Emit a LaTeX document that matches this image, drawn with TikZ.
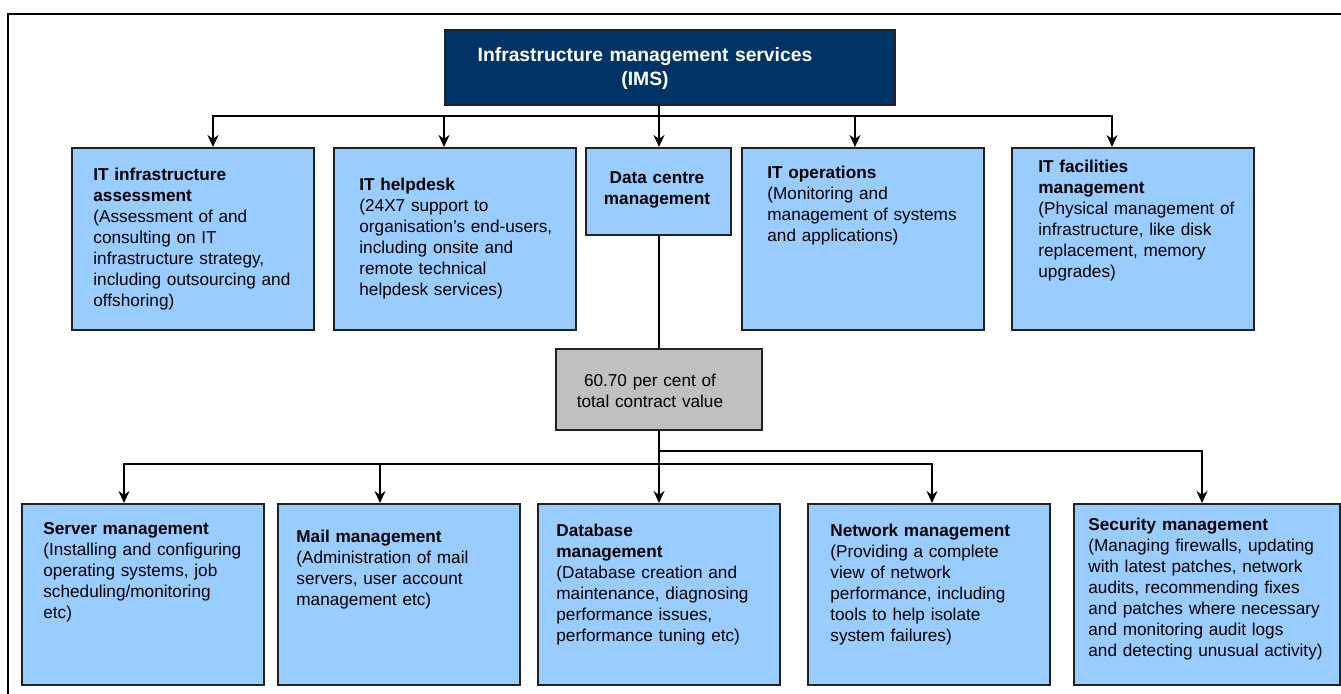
\documentclass[tikz,border=0pt]{standalone}
\usepackage{fontspec}
\setmainfont{Liberation Sans}
\usetikzlibrary{arrows.meta,positioning}
\definecolor{imsblue}{HTML}{003366}
\definecolor{svcblue}{HTML}{99CCFF}
\definecolor{sharegray}{HTML}{C0C0C0}
\definecolor{rim}{HTML}{222222}

\begin{document}
\begin{tikzpicture}[x=0.5pt,y=-0.5pt,>={Stealth[length=6pt,width=5.5pt]},
    svc/.style={draw=rim,fill=svcblue,line width=0.9pt,inner sep=0pt,anchor=north west},
    tall/.style={svc,minimum width=121pt,minimum height=91pt},
    low/.style={svc,minimum width=121pt,minimum height=90.5pt},
    txt/.style={inner sep=0pt,anchor=base west,text width=130pt,align=left,
      font=\fontsize{8.6}{10.5}\selectfont},
    link/.style={line width=0.9pt}]
  \useasboundingbox (0,0) rectangle (1341,694);
  \draw[line width=0.8pt] (1341,14) -- (8,14) -- (8,694);

  % IMS on top
  \node[svc,fill=imsblue,minimum width=225pt,minimum height=37.5pt] (ims) at (444,29) {};
  \node[txt,anchor=base,text width=200pt,align=center,text=white,
    font=\fontsize{9.65}{12}\selectfont\bfseries] (ims-t) at (645,62)
    {Infrastructure management services\\(IMS)};

  % first row
  \node[tall] (assess) at (71,147) {};
  \node[tall] (helpdesk) at (333,147) {};
  \node[svc,minimum width=72.5pt,minimum height=43.5pt] (dc) at (585,147) {};
  \node[tall] (ops) at (741,147) {};
  \node[tall] (facil) at (1011,147) {};

  \node[txt] (assess-t) at (93,181) {\textbf{IT infrastructure}\\\textbf{assessment}\\
    (Assessment of and\\consulting on IT\\infrastructure strategy,\\
    including outsourcing and\\offshoring)};
  \node[txt] (helpdesk-t) at (359,191) {\textbf{IT helpdesk}\\(24X7 support to\\
    organisation’s end-users,\\including onsite and\\remote technical\\helpdesk services)};
  \node[txt,anchor=base,text width=70pt,align=center,font=\fontsize{8.6}{10.5}\selectfont\bfseries]
    (dc-t) at (657,184) {Data centre\\management};
  \node[txt] (ops-t) at (767,179) {\textbf{IT operations}\\(Monitoring and\\
    management of systems\\and applications)};
  \node[txt] (facil-t) at (1038,173) {\textbf{IT facilities}\\\textbf{management}\\
    (Physical management of\\infrastructure, like disk\\replacement, memory\\upgrades)};

  \coordinate (tbus) at (659,116);
  \draw[link] (ims.south -| tbus) -- (tbus);
  \draw[link,->] (tbus) -- (dc.north -| tbus);
  \foreach \n/\x in {assess/213,helpdesk/444,ops/855,facil/1112}
    \draw[link,->] (tbus) -| (\n.north -| \x,0);

  % share of contract value
  \node[svc,fill=sharegray,minimum width=103pt,minimum height=40.5pt] (share) at (555,348) {};
  \node[txt,anchor=base,text width=100pt,align=center] (share-t) at (650,387)
    {60.70 per cent of\\total contract value};
  \draw[link] (dc.south -| tbus) -- (share.north -| tbus);

  % second row
  \node[low] (srv) at (21,503) {};
  \node[low] (mail) at (277,503) {};
  \node[low] (db) at (537,503) {};
  \node[low] (net) at (807,503) {};
  \node[low,minimum width=133pt] (sec) at (1073,503) {};

  \node[txt] (srv-t) at (43,535) {\textbf{Server management}\\(Installing and configuring\\
    operating systems, job\\scheduling/monitoring\\etc)};
  \node[txt] (mail-t) at (296,543) {\textbf{Mail management}\\(Administration of mail\\
    servers, user account\\management etc)};
  \node[txt] (db-t) at (556,537) {\textbf{Database}\\\textbf{management}\\
    (Database creation and\\maintenance, diagnosing\\performance issues,\\
    performance tuning etc)};
  \node[txt] (net-t) at (830,537) {\textbf{Network management}\\(Providing a complete\\
    view of network\\performance, including\\tools to help isolate\\system failures)};
  \node[txt] (sec-t) at (1088,531) {\textbf{Security management}\\(Managing firewalls, updating\\
    with latest patches, network\\audits, recommending fixes\\and patches where necessary\\
    and monitoring audit logs\\and detecting unusual activity)};

  \coordinate (ubus) at (659,451);
  \coordinate (lbus) at (659,464);
  \draw[link,->] (share.south -| tbus) -- (db.north -| tbus);
  \draw[link,->] (ubus) -| (sec.north -| 1202,0);
  \foreach \n/\x in {srv/124,mail/380,net/932}
    \draw[link,->] (lbus) -| (\n.north -| \x,0);
\end{tikzpicture}
\end{document}
